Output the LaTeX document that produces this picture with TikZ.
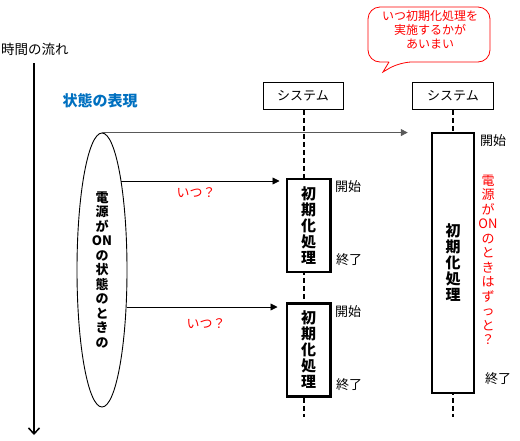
\documentclass[tikz,border=0pt]{standalone}
\usepackage{fontspec}
\setmainfont{Noto Sans CJK JP}
\usetikzlibrary{arrows.meta,shapes.geometric}
\definecolor{jblue}{RGB}{0,112,192}
\definecolor{jred}{RGB}{255,0,0}
\tikzset{
  lbl/.style={inner sep=0pt, font=\fontsize{13}{15}\selectfont},
  redlbl/.style={lbl, text=jred},
  sysbox/.style={draw, line width=0.8pt, minimum width=80pt, minimum height=27pt, inner sep=0pt, fill=white, font=\fontsize{13}{15}\selectfont},
  procbox/.style={draw, line width=2.5pt, fill=white, inner sep=0pt, align=center, font=\bfseries\fontsize{15}{16}\selectfont},
  life/.style={line width=1.5pt, dash pattern=on 5pt off 3pt},
  conn/.style={line width=0.8pt, -{Triangle[length=7pt,width=7pt]}},
}
\begin{document}
\begin{tikzpicture}[x=1pt,y=-1pt]
\useasboundingbox (0,0) rectangle (520,440);

% time axis
\node[lbl, anchor=west, font=\fontsize{13.5}{15}\selectfont] (tl) at (1,49) {時間の流れ};
\coordinate (t0) at (34,63);
\coordinate (t1) at (34,435);
\draw[line width=1.5pt, -{Straight Barb[length=6pt,width=11pt]}] (t0) -- (t1);

\node[inner sep=0pt, text=jblue, font=\bfseries\fontsize{15}{17}\selectfont] (st) at (100,101) {状態の表現};

% callout
\draw[jred, line width=0.8pt, rounded corners=12pt] (389,62) -- (368,62) -- (368,7) -- (490,7) -- (490,62) -- (400,62) [sharp corners] -- (383,72) -- (389,62);
\node[inner sep=0pt, text=jred, align=center, font=\fontsize{12}{14}\selectfont] (co) at (430,30) {いつ初期化処理を\\実施するかが\\あいまい};

% systems and lifelines
\node[sysbox] (s1) at (303,96) {システム};
\node[sysbox, minimum width=81pt] (s2) at (453,96) {システム};
\coordinate (l1) at (304,417);
\coordinate (l2) at (453,417);
\draw[life] (s1.south -| l1) -- (l1);
\draw[life] (s2.south -| l2) -- (l2);

% ellipse
\node[draw, ellipse, line width=0.9pt, minimum width=50pt, minimum height=274pt, inner sep=0pt, align=center,
      font=\bfseries\fontsize{13}{14.5}\selectfont] (ell) at (102,270)
  {電\\源\\が\\ON\\の\\状\\態\\の\\と\\き\\の};

% process boxes
\node[procbox, minimum width=43.5pt, minimum height=93pt] (b1) at (308.5,225.5) {初\\期\\化\\処\\理};
\node[procbox, minimum width=43.5pt, minimum height=93pt] (b2) at (308.5,350) {初\\期\\化\\処\\理};
\node[procbox, minimum width=42pt, minimum height=260pt] (b3) at (453,263) {初\\期\\化\\処\\理};

% connectors
\coordinate (e1) at (121,181);
\coordinate (e2) at (126.5,307);
\draw[conn, black!65] (ell.north) -- ([xshift=-23pt]b3.west |- ell.north);
\draw[conn] (e1) -- ([xshift=-6pt]b1.west |- e1);
\draw[conn] (e2) -- ([xshift=-8pt]b2.west |- e2);

% labels
\node[redlbl] (q1) at (196,193) {いつ？};
\node[redlbl] (q2) at (206,324) {いつ？};
\node[lbl, anchor=west] (k1) at (335,187) {開始};
\node[lbl, anchor=west] (f1) at (336,260) {終了};
\node[lbl, anchor=west] (k2) at (335,312) {開始};
\node[lbl, anchor=west] (f2) at (336,385) {終了};
\node[lbl, anchor=west] (k3) at (480,141) {開始};
\node[lbl, anchor=west] (f3) at (485,379) {終了};
\node[redlbl, align=center, font=\fontsize{13}{14.5}\selectfont] (rq) at (488,260)
  {電\\源\\が\\ON\\の\\と\\き\\は\\ず\\っ\\と\\？};
\end{tikzpicture}
\end{document}
